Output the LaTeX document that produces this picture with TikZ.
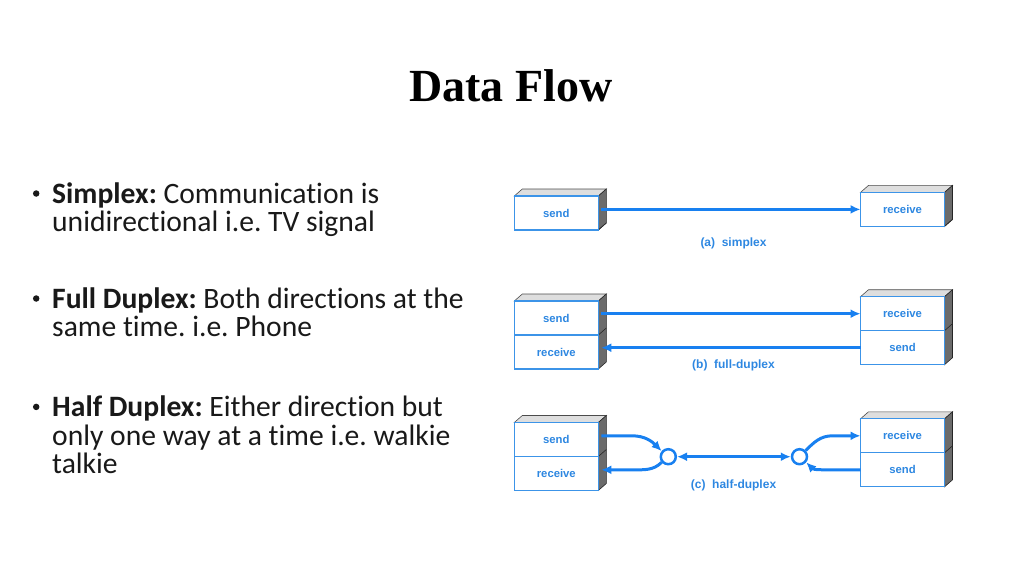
\documentclass[tikz,border=0pt]{standalone}
\usepackage{fontspec}
\setmainfont{Carlito}[Ligatures=NoCommon]
\newfontfamily\titlefont{Liberation Serif}
\newfontfamily\figfont{Liberation Sans}
\usetikzlibrary{arrows.meta,positioning,backgrounds}
\frenchspacing

\definecolor{boxblue}{RGB}{60,148,232}
\definecolor{txtblue}{RGB}{45,135,225}
\definecolor{arrowblue}{RGB}{24,128,240}

% top and side faces behind a box (top cell, bottom cell)
\newcommand{\cubefaces}[2]{%
  \begin{pgfonlayer}{background}
  \filldraw[topface] (#1.north west) -- ++(8,7) -- ([shift={(8,7)}]#1.north east) -- (#1.north east) -- cycle;
  \filldraw[sideface] (#1.north east) -- ++(8,7) -- ([shift={(8,7)}]#2.south east) -- (#2.south east) -- cycle;
  \draw[sideface] (#1.south east) -- ++(8,7);
  \end{pgfonlayer}}

\tikzset{
  cell/.style={draw=boxblue, line width=1.3pt, fill=white, minimum width=84pt, minimum height=34pt,
    inner sep=0pt, outer sep=0pt, text=txtblue, font=\figfont\bfseries\fontsize{11.3}{13}\selectfont},
  topface/.style={draw=black!70, line width=0.6pt, fill=black!13},
  sideface/.style={draw=black!85, line width=0.6pt, fill=black!58},
  dataflow/.style={line width=3pt, draw=arrowblue, -{Latex[length=10pt,width=9pt]}},
  junction/.style={circle, draw=arrowblue, line width=2.5pt, fill=white, minimum size=15pt, inner sep=0pt},
  caption/.style={text=txtblue, inner sep=0pt, font=\figfont\bfseries\fontsize{12}{14}\selectfont},
  line/.style={anchor=base west, inner sep=0pt, text=black!90, font=\fontsize{29.6}{30}\selectfont},
  dot/.style={circle, fill=black!90, minimum size=6.5pt, inner sep=0pt},
}

\begin{document}
\begin{tikzpicture}[x=1pt,y=1pt]
\useasboundingbox (0,0) rectangle (1024,-576);

\node[anchor=base, inner sep=0pt, font=\titlefont\bfseries\fontsize{46}{50}\selectfont] (title) at (511,-101) {Data Flow};

% bullet text
\node[dot] (b1) at (36.2,-193.5) {};
\node[line] (t1) at (52,-203.3) {\textbf{Simplex:} Communication is};
\node[line] (t2) at (52,-231) {unidirectional i.e. TV signal};
\node[dot] (b2) at (36.2,-298.5) {};
\node[line] (t3) at (52,-308.3) {\textbf{Full Duplex:} Both directions at the};
\node[line] (t4) at (52,-336.7) {same time. i.e. Phone};
\node[dot] (b3) at (36.2,-406.9) {};
\node[line] (t5) at (52,-416.7) {\textbf{Half Duplex:} Either direction but};
\node[line] (t6) at (52,-445) {only one way at a time i.e. walkie};
\node[line] (t7) at (52,-473.3) {talkie};

% (a) simplex
\node[cell] (ls) at (556.3,-213) {send};
\node[cell] (rr) at (902.5,-209.4) {receive};
\cubefaces{ls}{ls}
\cubefaces{rr}{rr}
\draw[dataflow] ([xshift=3pt]ls.east |- rr.west) -- (rr.west);
\node[caption] (capa) at (733.5,-243.3) {(a)\ \ simplex};

% (b) full-duplex
\node[cell] (fls) at (556.3,-318) {send};
\node[cell, below=0pt of fls] (flr) {receive};
\node[cell] (frr) at (902.5,-313.7) {receive};
\node[cell, below=0pt of frr] (frs) {send};
\cubefaces{fls}{flr}
\cubefaces{frr}{frs}
\draw[dataflow] ([xshift=3pt]fls.east |- frr.west) -- (frr.west);
\draw[dataflow] (frs.west) -- ([xshift=3pt]flr.east |- frs.west);
\node[caption] (capb) at (733.5,-365) {(b)\ \ full-duplex};

% (c) half-duplex
\node[cell] (hls) at (556.3,-439.5) {send};
\node[cell, below=0pt of hls] (hlr) {receive};
\node[cell] (hrr) at (902.5,-435.8) {receive};
\node[cell, below=0pt of hrr] (hrs) {send};
\cubefaces{hls}{hlr}
\cubefaces{hrr}{hrs}
\node[junction] (lc) at (668.3,-456.7) {};
\node[junction] (rc) at (799.5,-456.7) {};
\draw[dataflow] ([xshift=3pt]hls.east |- hrr.west) -- ([xshift=34pt]hls.east |- hrr.west)
  to[out=0,in=135] (lc.140);
\draw[dataflow] (lc.220) to[out=225,in=0] ([xshift=34pt]hlr.east |- hrs.west)
  -- ([xshift=3pt]hlr.east |- hrs.west);
\draw[dataflow, {Latex[length=10pt,width=9pt]}-{Latex[length=10pt,width=9pt]}] (lc) -- (rc);
\draw[dataflow] (rc.45) to[out=45,in=180] ([xshift=-28pt]hrr.west) -- (hrr.west);
\draw[dataflow] (hrs.west) -- ([xshift=-28pt]hrs.west) to[out=180,in=-45] (rc.-40);
\node[caption] (capc) at (733.5,-485) {(c)\ \ half-duplex};

\end{tikzpicture}
\end{document}
